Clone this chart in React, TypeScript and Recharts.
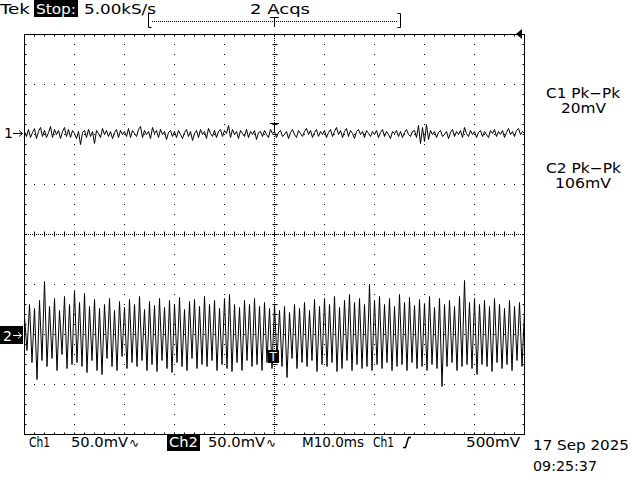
import { LineChart, Line, XAxis, YAxis, CartesianGrid, ReferenceLine } from "recharts";

// screen units: x in ms (10 ms/div), y in mV (50 mV/div)
const xGrid = [-50, -40, -30, -20, -10, 0, 10, 20, 30, 40, 50];
const yGrid = [-200, -150, -100, -50, 0, 50, 100, 150, 200];

// channel ground positions on screen (mV)
const ch1Offset = 100;
const ch2Offset = -100;

// ch1 samples, 0.4 ms apart, mV
const ch1Values = [
  3, -2, 5, -3, 2, 6, -4, 3, 7, -2, 4, -3, 2, 8, -3, 5, 0, 4, -4, 3, 7, -2, 5, -3, 4,
  1, -4, 3, -10, 2, 4, -3, 5, -2, 3, -9, 4, 1, -3, 6, 0, 4, -2, 3, -4, 2, 5, -3, 4, 0,
  3, -2, 6, -3, 4, 1, -2, 5, 8, -3, 4, 0, 3, -4, 7, 1, 4, -3, 5, 0, 3, -5, 2, 4, -2,
  3, -3, 4, 0, -4, 2, 5, -2, 3, -6, 1, 4, -3, 5, 0, 3, -4, 6, 1, -2, 4, -3, 3, 5, -2,
  4, 1, 9, -3, 5, 0, 3, -4, 4, 1, -2, 5, -3, 3, 0, 4, -5, 2, 3, -2, 4, 0, -3, 5, 1,
  3, -3, 2, 4, -2, 0, 3, -4, 2, 5, 0, -3, 4, 1, -2, 3, 6, 0, 4, -3, 2, 5, -2, 3, 0,
  4, -3, 2, 5, -2, 3, 7, 0, 4, -3, 3, 6, -2, 4, 1, -4, 3, 5, 0, 3, -3, 4, 1, -2, 3,
  0, 4, -3, 2, 5, -2, 3, 0, -4, 3, 1, 4, -2, 3, -3, 2, 5, 0, -2, 3, 4, -3, 9, -9, 7,
  -7, 10, -5, 4, 0, 3, -3, 2, 4, -2, 0, 3, -4, 2, 5, -2, 3, 0, 4, -3, 7, 1, -2, 4, 0,
  3, -3, 2, 4, -2, 3, 0, -3, 4, 1, 5, -2, 3, 0, 4, -3, 2, 6, 0, 3, -2, 4, 6, 0, 3, 1,
];
const ch1StepMs = 0.4;

// ch2 samples, 0.5 ms apart, mV
const ch2Values = [
  18, -16, 30, -28, 26, -45, 34, -26, 53, -32, 28, -24, 36, -36, 24, -20, 38, -34, 30, -30,
  44, -28, 32, -32, 41, -38, 28, -26, 35, -36, 26, -40, 30, -24, 36, -32, 24, -36, 33, -22,
  27, -34, 35, -28, 30, -32, 38, -26, 25, -36, 33, -30, 29, -37, 36, -26, 27, -34, 34, -38,
  30, -28, 37, -32, 25, -36, 33, -24, 35, -34, 28, -30, 38, -32, 30, -26, 34, -36, 26, -30,
  36, -34, 40, -37, 30, -28, 27, -36, 34, -26, 30, -32, 36, -30, 28, -36, 32, -28, 26, -34,
  30, -26, 24, -32, 28, -43, 22, -24, 30, -34, 26, -28, 32, -32, 24, -26, 35, -37, 28, -30,
  36, -32, 30, -28, 38, -37, 27, -34, 34, -26, 40, -36, 32, -30, 36, -34, 30, -32, 50, -36,
  34, -30, 38, -34, 30, -28, 36, -36, 28, -32, 40, -30, 32, -36, 37, -28, 29, -34, 35, -32,
  31, -36, 38, -30, 27, -34, 36, -52, 30, -32, 34, -28, 28, -36, 38, -32, 54, -30, 32, -34,
  36, -40, 30, -30, 34, -32, 28, -37, 36, -28, 30, -34, 26, -30, 34, -36, 28, -26, 32, -32, 24,
];
const ch2StepMs = 0.5;

const ch1Data = ch1Values.map((v, i) => ({ t: -50 + i * ch1StepMs, v: v + ch1Offset }));
const ch2Data = ch2Values.map((v, i) => ({ t: -50 + i * ch2StepMs, v: v + ch2Offset }));

// minor tick marks every 2 ms / 10 mV
const xMinor: number[] = [];
for (let t = -48; t <= 48; t += 2) xMinor.push(t);
const yMinor: number[] = [];
for (let m = -190; m <= 190; m += 10) yMinor.push(m);

const font = "'DejaVu Sans', sans-serif";

function Overlay() {
  const txt = { fontFamily: font, fontSize: 14, fill: "#000" };
  const white = { ...txt, fill: "#fff" };
  return (
    <svg width={640} height={480} style={{ position: "absolute", left: 0, top: 0, pointerEvents: "none" }}>
      {/* header */}
      <text x={0} y={14} {...txt} textLength={30} lengthAdjust="spacingAndGlyphs">Tek</text>
      <rect x={34} y={0} width={44} height={17} fill="#000" />
      <text x={36} y={14} {...white} textLength={40} lengthAdjust="spacingAndGlyphs">Stop:</text>
      <text x={84} y={14} {...txt} textLength={72} lengthAdjust="spacingAndGlyphs">5.00kS/s</text>
      <text x={250} y={14} {...txt} textLength={60} lengthAdjust="spacingAndGlyphs">2 Acqs</text>
      <path d="M151.5 13.5 H148.5 V27.5 H151.5 M397.5 13.5 H400.5 V27.5 H397.5" stroke="#000" fill="none" />
      <line x1={152} y1={21.5} x2={397} y2={21.5} stroke="#000" strokeDasharray="1 1" />
      <path d="M270 17.5 H279 M274.5 17 V27" stroke="#000" fill="none" />
      <polygon points="516,34 522,29 522,39" fill="#000" />

      {/* channel markers */}
      <text x={4} y={138} {...txt}>1</text>
      <path d="M13 133.5 H22 M19 130.5 L22.5 133.5 L19 136.5" stroke="#000" fill="none" />
      <rect x={0} y={326} width={23} height={18} fill="#000" />
      <text x={3} y={341} {...white}>2</text>
      <path d="M13 335.5 H21 M18 332.5 L21.5 335.5 L18 338.5" stroke="#fff" fill="none" />

      {/* trigger level markers */}
      <path d="M270 123.5 H279 M274.5 123 V131" stroke="#000" fill="none" />
      <rect x={268} y={350} width={11} height={13} fill="#000" />
      <text x={269.5} y={361} fontFamily={font} fontSize={12} fill="#fff">T</text>

      {/* measurements */}
      <text x={546} y={98} {...txt} textLength={74} lengthAdjust="spacingAndGlyphs">C1 Pk−Pk</text>
      <text x={561} y={113} {...txt} textLength={45} lengthAdjust="spacingAndGlyphs">20mV</text>
      <text x={546} y={173} {...txt} textLength={75} lengthAdjust="spacingAndGlyphs">C2 Pk−Pk</text>
      <text x={555} y={188} {...txt} textLength={56} lengthAdjust="spacingAndGlyphs">106mV</text>

      {/* footer */}
      <text x={29} y={447} {...txt} textLength={21} lengthAdjust="spacingAndGlyphs">Ch1</text>
      <text x={71} y={447} {...txt} textLength={57} lengthAdjust="spacingAndGlyphs">50.0mV</text>
      <text x={129} y={447} {...txt} fontSize={12}>∿</text>
      <rect x={167} y={434} width={33} height={17} fill="#000" />
      <text x={169} y={447} {...white} textLength={29} lengthAdjust="spacingAndGlyphs">Ch2</text>
      <text x={208} y={447} {...txt} textLength={57} lengthAdjust="spacingAndGlyphs">50.0mV</text>
      <text x={266} y={447} {...txt} fontSize={12}>∿</text>
      <text x={302} y={447} {...txt} textLength={62} lengthAdjust="spacingAndGlyphs">M10.0ms</text>
      <text x={373} y={447} {...txt} textLength={21} lengthAdjust="spacingAndGlyphs">Ch1</text>
      <path d="M403 447.5 H405.5 L408.5 437.5 H411" stroke="#000" strokeWidth={1.5} fill="none" />
      <text x={466} y={447} {...txt} textLength={54} lengthAdjust="spacingAndGlyphs">500mV</text>
      <text x={533} y={450} {...txt} textLength={96} lengthAdjust="spacingAndGlyphs">17 Sep 2025</text>
      <text x={533} y={471} {...txt} textLength={64} lengthAdjust="spacingAndGlyphs">09:25:37</text>
    </svg>
  );
}

export default function App() {
  return (
    <div style={{ position: "absolute", left: 0, top: 0, width: 640, height: 480, background: "#fff" }}>
      <LineChart
        width={640}
        height={480}
        margin={{ top: 34.5, left: 24.5, right: 115.5, bottom: 45.5 }}
      >
        <XAxis type="number" dataKey="t" domain={[-50, 50]} ticks={xGrid} hide allowDataOverflow />
        <YAxis type="number" dataKey="v" domain={[-200, 200]} ticks={yGrid} hide allowDataOverflow />
        <CartesianGrid stroke="#000" strokeDasharray="1 9" strokeDashoffset={0.5} />
        {/* center graticule */}
        <ReferenceLine x={0} stroke="#000" strokeDasharray="1 1" strokeDashoffset={0.5} />
        <ReferenceLine y={0} stroke="#000" strokeDasharray="1 1" strokeDashoffset={0.5} />
        {xMinor.map((t) => (
          <ReferenceLine key={"cx" + t} segment={[{ x: t, y: -2 }, { x: t, y: 3 }]} stroke="#000" />
        ))}
        {yMinor.map((m) => (
          <ReferenceLine key={"cy" + m} segment={[{ x: -0.4, y: m }, { x: 0.6, y: m }]} stroke="#000" />
        ))}
        {/* border ticks */}
        {xMinor.map((t) => (
          <ReferenceLine key={"tx" + t} segment={[{ x: t, y: 200 }, { x: t, y: 198 }]} stroke="#000" />
        ))}
        {xMinor.map((t) => (
          <ReferenceLine key={"bx" + t} segment={[{ x: t, y: -200 }, { x: t, y: -198 }]} stroke="#000" />
        ))}
        {yMinor.map((m) => (
          <ReferenceLine key={"ly" + m} segment={[{ x: -50, y: m }, { x: -49.6, y: m }]} stroke="#000" />
        ))}
        {yMinor.map((m) => (
          <ReferenceLine key={"ry" + m} segment={[{ x: 50, y: m }, { x: 49.6, y: m }]} stroke="#000" />
        ))}
        {/* border */}
        <ReferenceLine x={-50} stroke="#000" />
        <ReferenceLine x={50} stroke="#000" />
        <ReferenceLine y={200} stroke="#000" />
        <ReferenceLine y={-200} stroke="#000" />
        <Line data={ch1Data} dataKey="v" type="linear" stroke="#000" strokeWidth={1} dot={false} isAnimationActive={false} />
        <Line data={ch2Data} dataKey="v" type="linear" stroke="#000" strokeWidth={1} dot={false} isAnimationActive={false} />
      </LineChart>
      <Overlay />
    </div>
  );
}
